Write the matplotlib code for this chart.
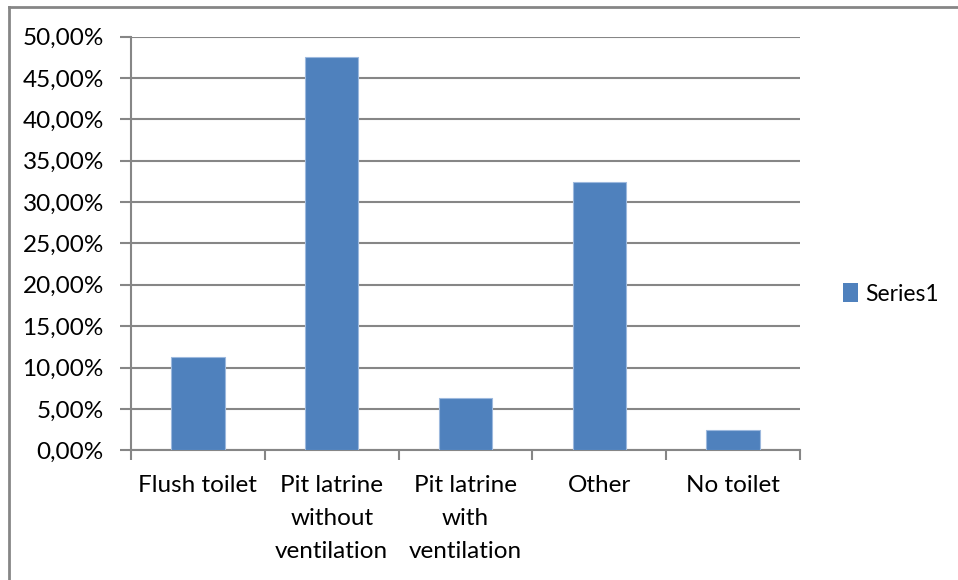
import numpy as np
import matplotlib
matplotlib.use("Agg")
import matplotlib.pyplot as plt
from matplotlib.lines import Line2D
from matplotlib.patches import Patch
from matplotlib.ticker import FuncFormatter

plt.rcParams["font.family"] = ["Lato", "DejaVu Sans"]

categories = ["Flush toilet", "Pit latrine\nwithout\nventilation", "Pit latrine\nwith\nventilation",
              "Other", "No toilet"]
shares = [11.25, 47.5, 6.3, 32.4, 2.45]   # percent of households
series_name = "Series1"

BAR = "#4F81BD"
GRID = "#868686"
FS = 17.5
W, H = 958, 580

fig = plt.figure(figsize=(W / 100, H / 100), dpi=100)
ax = fig.add_axes([131 / W, 1 - 450.3 / H, (800 - 131) / W, (450.3 - 36.5) / H])

x = np.arange(len(categories))
ax.bar(x, shares, width=0.4, color=BAR, edgecolor="#9DB9DE", linewidth=0.8, zorder=3)

ax.set_xlim(-0.5, len(categories) - 0.5)
ax.set_ylim(0, 50)
ax.set_yticks(np.arange(0, 51, 5))
ax.yaxis.set_major_formatter(FuncFormatter(lambda v, _: f"{v:.2f}%".replace(".", ",")))
ax.grid(axis="y", color=GRID, linewidth=1.5, zorder=0)

ax.set_xticks(x)
ax.set_xticklabels(categories, linespacing=1.72, va="top")
ax.set_xticks(np.arange(-0.5, len(categories)), minor=True)
ax.tick_params(axis="x", which="major", length=0, pad=17.5, labelsize=FS)
ax.tick_params(axis="x", which="minor", length=7, width=1.5, color=GRID)
ax.tick_params(axis="y", length=8, width=1.5, color=GRID, pad=11.5, labelsize=FS)

for side in ("top", "right"):
    ax.spines[side].set_visible(False)
for side in ("left", "bottom"):
    ax.spines[side].set_color(GRID)
    ax.spines[side].set_linewidth(1.5)

fig.legend(handles=[Patch(facecolor=BAR, label=series_name)],
           loc="center left", bbox_to_anchor=(843 / W, 1 - 294 / H),
           frameon=False, fontsize=16.5, borderpad=0, borderaxespad=0,
           handlelength=0.65, handleheight=0.85, handletextpad=0.3)

# chart area border (top and left edges visible)
fig.add_artist(Line2D([8.5 / W, 8.5 / W], [0, 1 - 6.5 / H], transform=fig.transFigure,
                      color=GRID, linewidth=2))
fig.add_artist(Line2D([8.5 / W, 1], [1 - 6.5 / H, 1 - 6.5 / H], transform=fig.transFigure,
                      color=GRID, linewidth=2))

fig.savefig("out.png", dpi=100)
